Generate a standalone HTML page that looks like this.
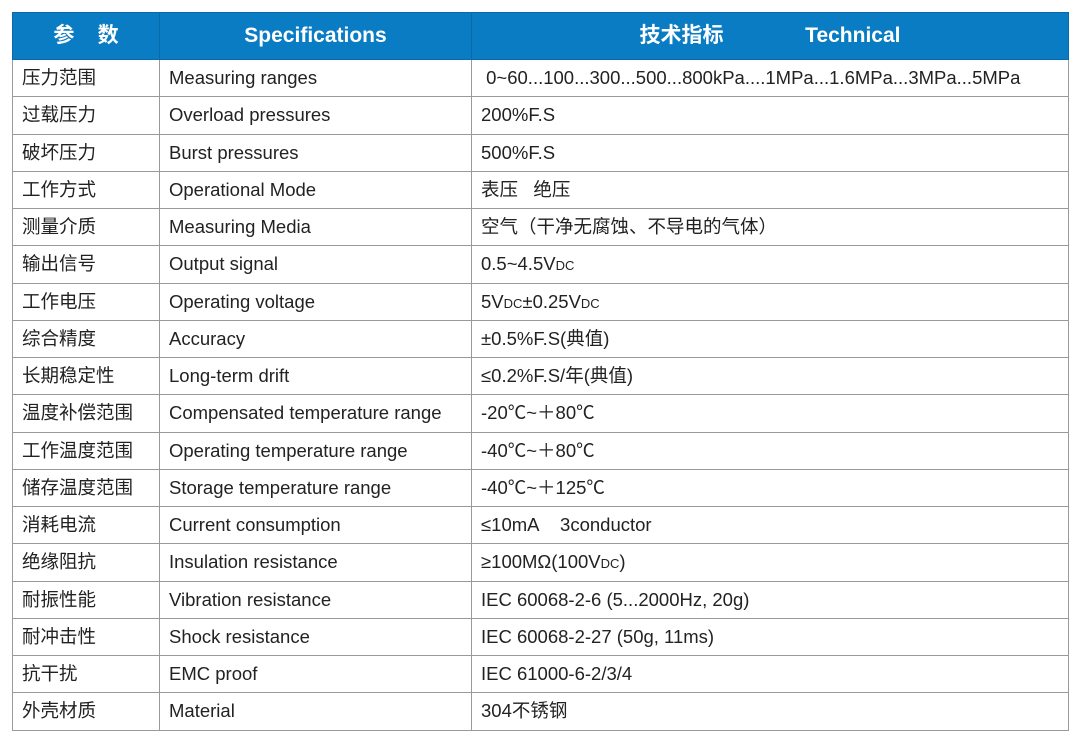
<!DOCTYPE html>
<html><head><meta charset="utf-8"><style>
body{margin:0;background:#fff;width:1079px;height:741px;overflow:hidden}
table{position:absolute;left:12px;top:12px;border-collapse:collapse;width:1057px;font-family:"Liberation Sans","Noto Sans CJK SC",sans-serif;font-size:18.5px;color:#222}
td{border:1px solid #9a9a9a;height:36.25px;padding:0 0 0 9px;white-space:nowrap;line-height:20px;vertical-align:middle}
th{background:#0a7cc4;color:#fff;font-size:21px;height:46px;border:1px solid #0a6aa8;font-weight:bold;line-height:24px;vertical-align:middle;padding:0}
sub{font-size:13px;vertical-align:baseline;line-height:0}
</style></head><body>
<table>
<colgroup><col style="width:147px"><col style="width:312px"><col></colgroup>
<tr><th>参&nbsp;&nbsp;&nbsp;&nbsp;数</th><th>Specifications</th><th>技术指标&nbsp;&nbsp;&nbsp;&nbsp;&nbsp;&nbsp;&nbsp;&nbsp;&nbsp;&nbsp;&nbsp;&nbsp;&nbsp;&nbsp;Technical</th></tr>
<tr><td>压力范围</td><td>Measuring ranges</td><td>&nbsp;0~60...100...300...500...800kPa....1MPa...1.6MPa...3MPa...5MPa</td></tr>
<tr><td>过载压力</td><td>Overload pressures</td><td>200%F.S</td></tr>
<tr><td>破坏压力</td><td>Burst pressures</td><td>500%F.S</td></tr>
<tr><td>工作方式</td><td>Operational Mode</td><td>表压&nbsp;&nbsp;&nbsp;绝压</td></tr>
<tr><td>测量介质</td><td>Measuring Media</td><td>空气（干净无腐蚀、不导电的气体）</td></tr>
<tr><td>输出信号</td><td>Output signal</td><td>0.5~4.5V<sub>DC</sub></td></tr>
<tr><td>工作电压</td><td>Operating voltage</td><td>5V<sub>DC</sub>±0.25V<sub>DC</sub></td></tr>
<tr><td>综合精度</td><td>Accuracy</td><td>±0.5%F.S(典值)</td></tr>
<tr><td>长期稳定性</td><td>Long-term drift</td><td>≤0.2%F.S/年(典值)</td></tr>
<tr><td>温度补偿范围</td><td>Compensated temperature range</td><td>-20℃~＋80℃</td></tr>
<tr><td>工作温度范围</td><td>Operating temperature range</td><td>-40℃~＋80℃</td></tr>
<tr><td>储存温度范围</td><td>Storage temperature range</td><td>-40℃~＋125℃</td></tr>
<tr><td>消耗电流</td><td>Current consumption</td><td>≤10mA&nbsp;&nbsp;&nbsp;&nbsp;3conductor</td></tr>
<tr><td>绝缘阻抗</td><td>Insulation resistance</td><td>≥100MΩ(100V<sub>DC</sub>)</td></tr>
<tr><td>耐振性能</td><td>Vibration resistance</td><td>IEC 60068-2-6 (5...2000Hz, 20g)</td></tr>
<tr><td>耐冲击性</td><td>Shock resistance</td><td>IEC 60068-2-27 (50g, 11ms)</td></tr>
<tr><td>抗干扰</td><td>EMC proof</td><td>IEC 61000-6-2/3/4</td></tr>
<tr><td>外壳材质</td><td>Material</td><td>304不锈钢</td></tr>
</table>
</body></html>
